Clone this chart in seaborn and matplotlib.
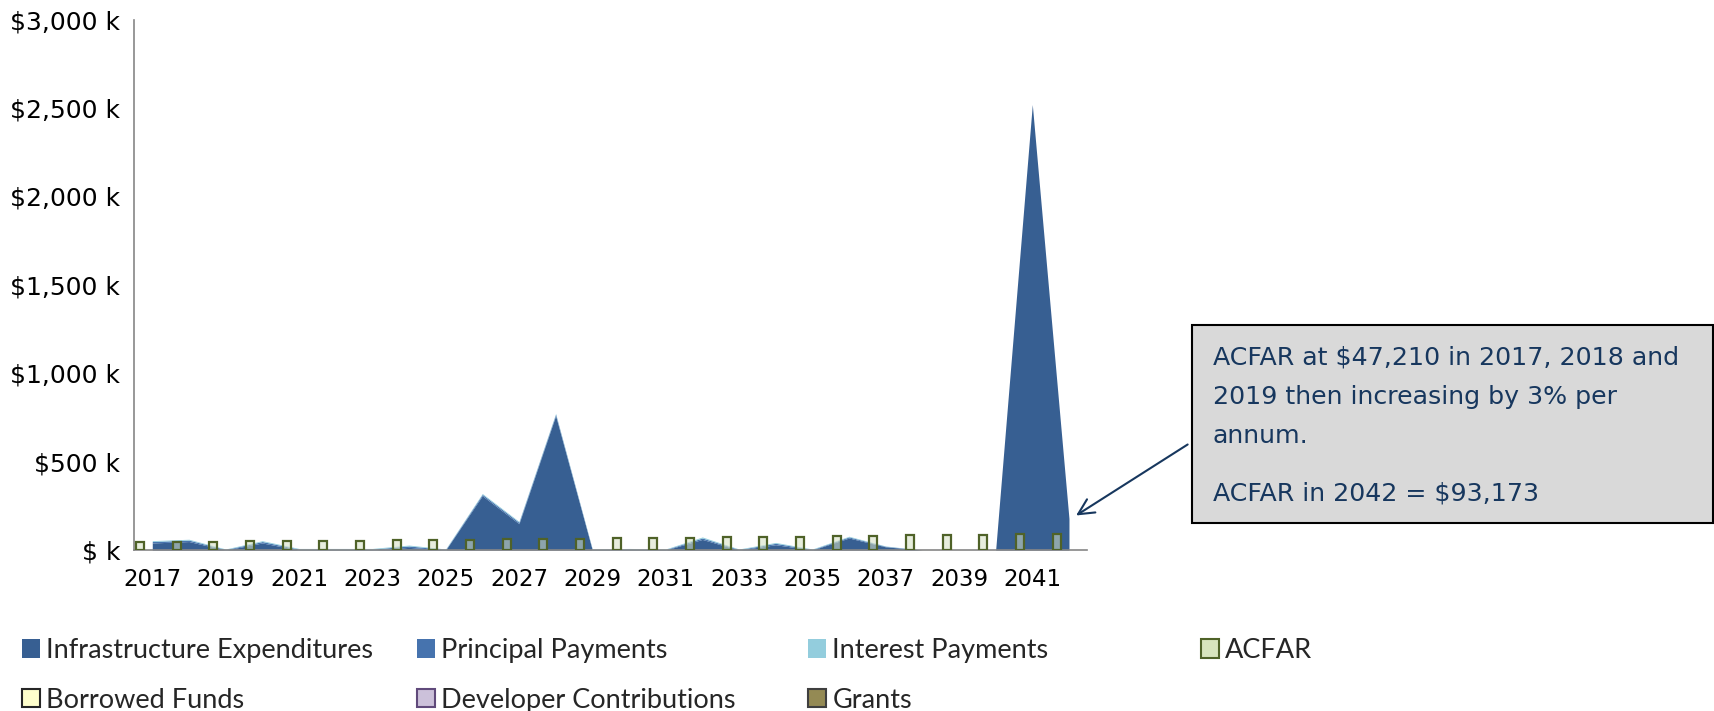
import numpy as np
import pandas as pd
import seaborn as sns
import matplotlib.pyplot as plt
from matplotlib.patches import Patch, Rectangle
from matplotlib.ticker import FuncFormatter

years = ['2017', '2018', '2019', '2020', '2021', '2022', '2023', '2024', '2025',
         '2026', '2027', '2028', '2029', '2030', '2031', '2032', '2033', '2034',
         '2035', '2036', '2037', '2038', '2039', '2040', '2041', '2042']

# stacked areas ($)
infrastructure = [40000, 48000, 0, 40000, 0, 0, 0, 15000, 0, 307000, 149000, 760000, 0,
                  0, 0, 60000, 0, 30000, 0, 68000, 18000, 0, 0, 0, 2520000, 178000]
principal = [8000, 8000, 3000, 8000, 5000, 5000, 5000, 8000, 3000, 8000, 8000, 8000, 3000,
             5000, 3000, 8000, 3000, 8000, 3000, 6000, 3000, 0, 0, 0, 0, 0]
interest = [5000, 5000, 3000, 5000, 4000, 4000, 4000, 5000, 3000, 5000, 5000, 5000, 3000,
            4000, 3000, 6000, 3000, 5000, 3000, 4000, 2000, 0, 0, 0, 0, 0]

# clustered bars ($)
acfar = [47210, 47210, 47210, 48626, 50085, 51588, 53135, 54729, 56371, 58062, 59804,
         61598, 63446, 65350, 67310, 69330, 71410, 73552, 75758, 78031, 80372, 82783,
         85267, 87825, 90459, 93173]
borrowed = [0, 0, 0, 0, 0, 0, 0, 0, 0, 0, 0, 0, 0, 0, 0, 0, 0, 0, 0, 0, 0, 0, 0, 0, 0, 0]
developer = [0, 0, 0, 0, 0, 0, 0, 0, 0, 0, 0, 0, 0, 0, 0, 0, 0, 0, 0, 0, 0, 0, 0, 0, 0, 0]
grants = [0, 0, 0, 0, 0, 0, 0, 0, 0, 0, 0, 0, 0, 0, 0, 0, 0, 0, 0, 0, 0, 0, 0, 0, 0, 0]

area_names = ['Infrastructure Expenditures', 'Principal Payments', 'Interest Payments']
area_colors = ['#375F92', '#4673AE', '#93CDDD']
bar_names = ['ACFAR', 'Borrowed Funds', 'Developer Contributions', 'Grants']
bar_faces = ['#D7E4BD', '#FFFFCC', '#CCC1DA', '#948A54']
bar_edges = ['#4F6228', '#262626', '#604A7B', '#3F3F3F']

note_lines = ['ACFAR at $47,210 in 2017, 2018 and', '2019 then increasing by 3% per',
              'annum.', 'ACFAR in 2042 = $93,173']

sns.set_style('white')
plt.rcParams['font.family'] = ['DejaVu Sans']

fig = plt.figure(figsize=(17.15, 7.11), dpi=100)
ax = fig.add_axes([0.0781, 0.2264, 0.5559, 0.7459])

x = np.arange(len(years))
ax.stackplot(x, infrastructure, principal, interest, colors=area_colors, lw=0, zorder=1)

bars = pd.DataFrame({'Year': years * 4,
                     'Series': np.repeat(bar_names, len(years)),
                     'Value': acfar + borrowed + developer + grants})
sns.barplot(data=bars, x='Year', y='Value', hue='Series', hue_order=bar_names,
            palette=bar_faces, width=0.894, legend=False, ax=ax, zorder=3)
for cont, ec in zip(ax.containers, bar_edges):
    for p in cont.patches:
        fc = p.get_facecolor()
        p.set_facecolor((fc[0], fc[1], fc[2], 0.55))
        p.set_edgecolor(ec)
        p.set_linewidth(1.6 if p.get_height() > 0 else 0)

ax.set_xlim(-0.5, len(years) - 0.5)
ax.set_ylim(0, 3000000)
ax.set_yticks(np.arange(0, 3000001, 500000))
ax.yaxis.set_major_formatter(FuncFormatter(lambda v, p: '$ k' if v == 0 else '${:,.0f} k'.format(v / 1000)))
ax.set_xticks(x[::2])
ax.set_xticklabels(years[::2])
ax.set_xticks(np.arange(-0.5, len(years)), minor=True)
ax.tick_params(axis='x', which='major', length=0, labelsize=16.5, pad=13, labelcolor='black')
ax.tick_params(axis='x', which='minor', length=8, width=1, color='#404040', direction='out')
ax.tick_params(axis='y', length=7, width=1, color='#868686', direction='out',
               labelsize=18, pad=3, labelcolor='black')
ax.set_xlabel('')
ax.set_ylabel('')
for s in ['top', 'right']:
    ax.spines[s].set_visible(False)
for s in ['left', 'bottom']:
    ax.spines[s].set_color('#868686')
    ax.spines[s].set_linewidth(1.2)

# legend, four columns placed like the original
handles = [Patch(facecolor=c, edgecolor='none', label=n) for n, c in zip(area_names, area_colors)]
handles += [Patch(facecolor=f, edgecolor=e, linewidth=1.5, label=n)
            for n, f, e in zip(bar_names, bar_faces, bar_edges)]
columns = [[handles[0], handles[4]], [handles[1], handles[5]], [handles[2], handles[6]], [handles[3]]]
col_x = [22, 417, 808, 1201]
for hs, cx in zip(columns, col_x):
    fig.legend(handles=hs, loc='upper left', bbox_to_anchor=(cx / 1715, 1 - 638 / 711),
               frameon=False, borderpad=0, borderaxespad=0, handlelength=0.65,
               handleheight=0.65, handletextpad=0.25, labelspacing=0.92,
               prop={'family': ['Lato', 'DejaVu Sans'], 'size': 19.5})

# annotation box
fig.patches.append(Rectangle((1192 / 1715, 1 - 523 / 711), 521 / 1715, 198 / 711,
                             transform=fig.transFigure, facecolor='#D9D9D9',
                             edgecolor='black', linewidth=1.5, zorder=5))
for line, ly in zip(note_lines, [357, 397, 436, 494]):
    fig.text(1213 / 1715, 1 - ly / 711, line, color='#17375E', fontsize=18.2,
             va='center', ha='left', zorder=6)
ax.annotate('', xy=(25.13, 187000), xycoords='data',
            xytext=(1190 / 1715, 1 - 443 / 711), textcoords='figure fraction',
            arrowprops=dict(arrowstyle='->', color='#17375E', lw=1.5, mutation_scale=28),
            annotation_clip=False)

fig.savefig('out.png', dpi=100)
